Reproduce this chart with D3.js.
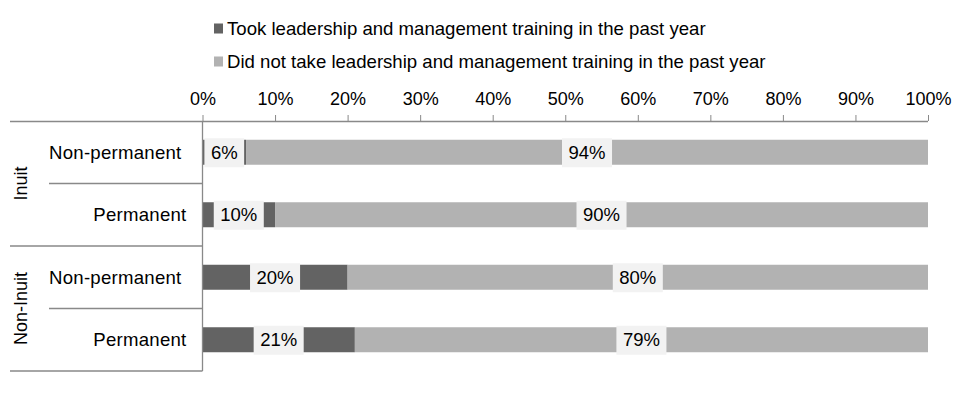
<!DOCTYPE html>
<html>
<head>
<meta charset="utf-8">
<script src="https://cdn.jsdelivr.net/npm/d3@7"></script>
<style>
  html, body { margin: 0; padding: 0; background: #fff; }
  svg { display: block; font-family: Arial, "Liberation Sans", sans-serif; }
</style>
</head>
<body>
<svg id="chart" width="975" height="394"></svg>
<script>
// ---- data ----
const groups = ["Inuit", "Inuit", "Non-Inuit", "Non-Inuit"];
const categories = ["Non-permanent", "Permanent", "Non-permanent", "Permanent"];
const tookTraining = [6, 10, 20, 21];
const didNotTake = [94, 90, 80, 79];
const seriesNames = [
  "Took leadership and management training in the past year",
  "Did not take leadership and management training in the past year"
];
const tickValues = [0, 10, 20, 30, 40, 50, 60, 70, 80, 90, 100];

// ---- styles ----
const colors = ["#636363", "#b2b2b2"];
const lineColor = "#898989";
const labelBg = "#f2f2f2";

const svg = d3.select("#chart");
const margin = { left: 202.5, right: 47, top: 121, bottom: 23 };
const W = 975, H = 394;

const x = d3.scaleLinear().domain([0, 100]).range([margin.left, W - margin.right]);
const y = d3.scaleBand().domain(d3.range(categories.length))
  .range([margin.top, H - margin.bottom]).paddingInner(0.6).paddingOuter(0.3);

const rows = categories.map((c, i) => ({
  i, group: groups[i], cat: c,
  segs: [
    { s: 0, x0: 0, x1: tookTraining[i], v: tookTraining[i] },
    { s: 1, x0: tookTraining[i], x1: tookTraining[i] + didNotTake[i], v: didNotTake[i] }
  ]
}));

// bars
const rowG = svg.append("g").selectAll("g").data(rows).join("g");
rowG.selectAll("rect.bar").data(d => d.segs.map(s => ({ ...s, i: d.i }))).join("rect")
  .attr("class", "bar")
  .attr("x", d => x(d.x0))
  .attr("width", d => x(d.x1) - x(d.x0))
  .attr("y", d => y(d.i))
  .attr("height", y.bandwidth())
  .attr("fill", d => colors[d.s]);

// data labels
const lab = rowG.selectAll("g.lab").data(d => d.segs.map(s => ({ ...s, i: d.i }))).join("g")
  .attr("class", "lab")
  .attr("transform", d => `translate(${x((d.x0 + d.x1) / 2)},${y(d.i) + y.bandwidth() / 2})`);
lab.append("rect").attr("fill", labelBg);
lab.append("text")
  .attr("text-anchor", "middle")
  .attr("dy", "0.36em")
  .attr("font-size", 18.5)
  .attr("fill", "#000")
  .text(d => d.v + "%");
lab.each(function () {
  const g = d3.select(this);
  const w = g.select("text").node().getComputedTextLength();
  g.select("rect").attr("x", -w / 2 - 6.5).attr("width", w + 13).attr("y", -14).attr("height", 29);
});

// top axis
const axisG = svg.append("g").attr("transform", `translate(0,${margin.top})`)
  .call(d3.axisTop(x).tickValues(tickValues).tickFormat(d => d + "%").tickSize(6).tickPadding(10.5));
axisG.select(".domain").remove();
axisG.selectAll(".tick line").attr("stroke", lineColor);
axisG.selectAll(".tick text").attr("font-size", 18).attr("fill", "#000").attr("font-family", "Arial, 'Liberation Sans', sans-serif");

// axis line and left structure lines
svg.append("line").attr("x1", 10).attr("x2", x(100)).attr("y1", margin.top + 0.5).attr("y2", margin.top + 0.5)
  .attr("stroke", lineColor).attr("stroke-width", 1.3);
svg.append("line").attr("x1", x(0)).attr("x2", x(0)).attr("y1", margin.top).attr("y2", H - margin.bottom)
  .attr("stroke", lineColor).attr("stroke-width", 1.3);

const step = y.step();
d3.range(1, categories.length + 1).forEach(k => {
  const yy = margin.top + k * step;
  const isGroupEdge = k === categories.length || groups[k] !== groups[k - 1];
  svg.append("line").attr("x1", isGroupEdge ? 10 : 49).attr("x2", x(0))
    .attr("y1", yy).attr("y2", yy).attr("stroke", lineColor).attr("stroke-width", 1.3);
});

// category labels
const catOffset = { "Non-permanent": 21, "Permanent": 16 };
svg.append("g").selectAll("text").data(rows).join("text")
  .attr("x", d => x(0) - catOffset[d.cat])
  .attr("y", d => y(d.i) + y.bandwidth() / 2)
  .attr("dy", "0.35em")
  .attr("text-anchor", "end")
  .attr("font-size", 18.6)
  .attr("letter-spacing", 0.25)
  .text(d => d.cat);

// group labels
const groupNames = Array.from(new Set(groups));
groupNames.forEach(gn => {
  const idx = groups.map((g, i) => g === gn ? i : -1).filter(i => i >= 0);
  const y0 = margin.top + idx[0] * step, y1 = margin.top + (idx[idx.length - 1] + 1) * step;
  svg.append("text")
    .attr("transform", `translate(21,${(y0 + y1) / 2}) rotate(-90)`)
    .attr("text-anchor", "middle")
    .attr("dy", "0.35em")
    .attr("font-size", 18)
    .text(gn);
});

// legend
const leg = svg.append("g").selectAll("g").data(seriesNames).join("g")
  .attr("transform", (d, i) => `translate(214,${28.5 + i * 33})`);
leg.append("rect").attr("x", 0).attr("y", -5).attr("width", 9).attr("height", 10).attr("fill", (d, i) => colors[i]);
leg.append("text").attr("x", 13).attr("dy", "0.35em").attr("font-size", 18.6).text(d => d);
</script>
</body>
</html>
